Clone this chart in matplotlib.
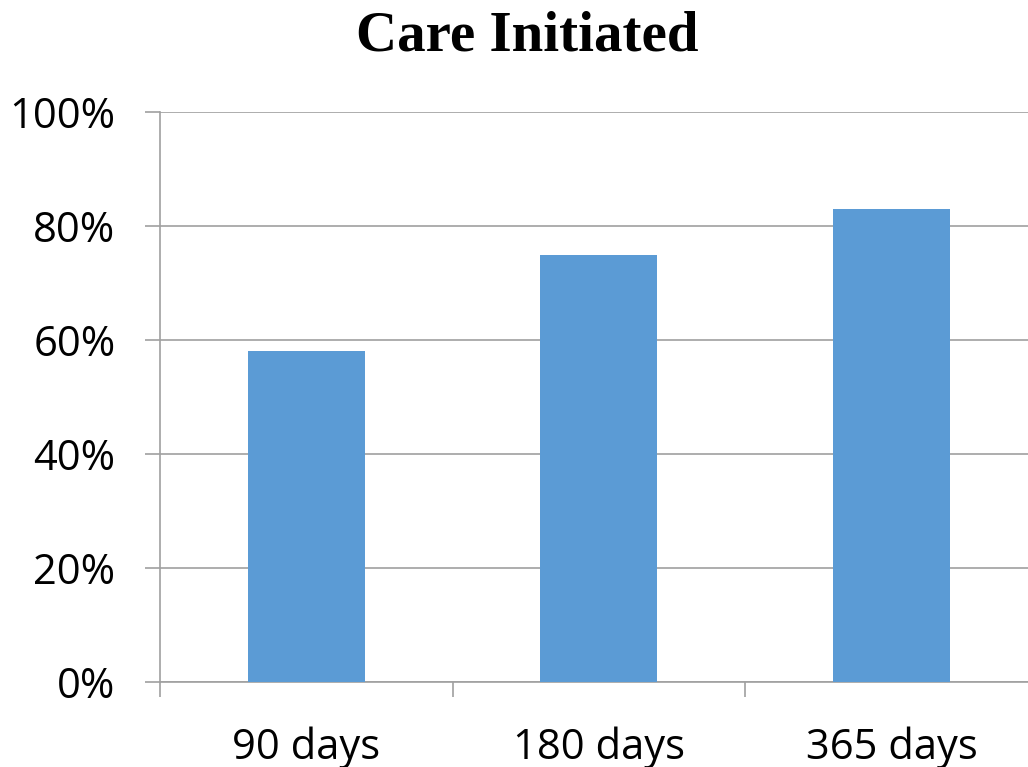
import matplotlib.pyplot as plt
from matplotlib.ticker import FuncFormatter

# Share of patients with care initiated by time since diagnosis
periods = ['90 days', '180 days', '365 days']
initiated = [0.58, 0.75, 0.83]

bar_color = '#5B9BD5'
line_color = '#A0A0A0'

fig = plt.figure(figsize=(10.28, 7.67), dpi=100)
ax = fig.add_axes([0.1556, 0.1108, 0.854, 0.743])

x = range(len(periods))
ax.bar(x, initiated, width=0.4, color=bar_color, zorder=3)

ax.set_xlim(-0.5, 2.5)
ax.set_ylim(0, 1)
ax.set_yticks([0, 0.2, 0.4, 0.6, 0.8, 1.0])
ax.yaxis.set_major_formatter(FuncFormatter(lambda v, _: f'{v * 100:.0f}%'))
ax.grid(axis='y', color=line_color, linewidth=1.2, zorder=0)

# category labels at bar centres, tick marks between categories
ax.set_xticks(list(x))
ax.set_xticklabels(periods)
ax.set_xticks([-0.5, 0.5, 1.5, 2.5], minor=True)
ax.tick_params(axis='x', which='major', length=0, pad=32)
ax.tick_params(axis='x', which='minor', length=11, width=1.2, color=line_color, direction='out')
ax.tick_params(axis='y', length=11, width=1.2, color=line_color, pad=21)

for label in ax.get_xticklabels() + ax.get_yticklabels():
    label.set_fontfamily('Open Sans')
    label.set_fontsize(30)

for side in ['top', 'right']:
    ax.spines[side].set_visible(False)
for side in ['left', 'bottom']:
    ax.spines[side].set_color(line_color)
    ax.spines[side].set_linewidth(1.2)

fig.text(0.513, 0.952, 'Care Initiated', ha='center', va='center',
         fontsize=41, fontweight='bold', family='Liberation Serif')

fig.savefig('out.png', dpi=100)
